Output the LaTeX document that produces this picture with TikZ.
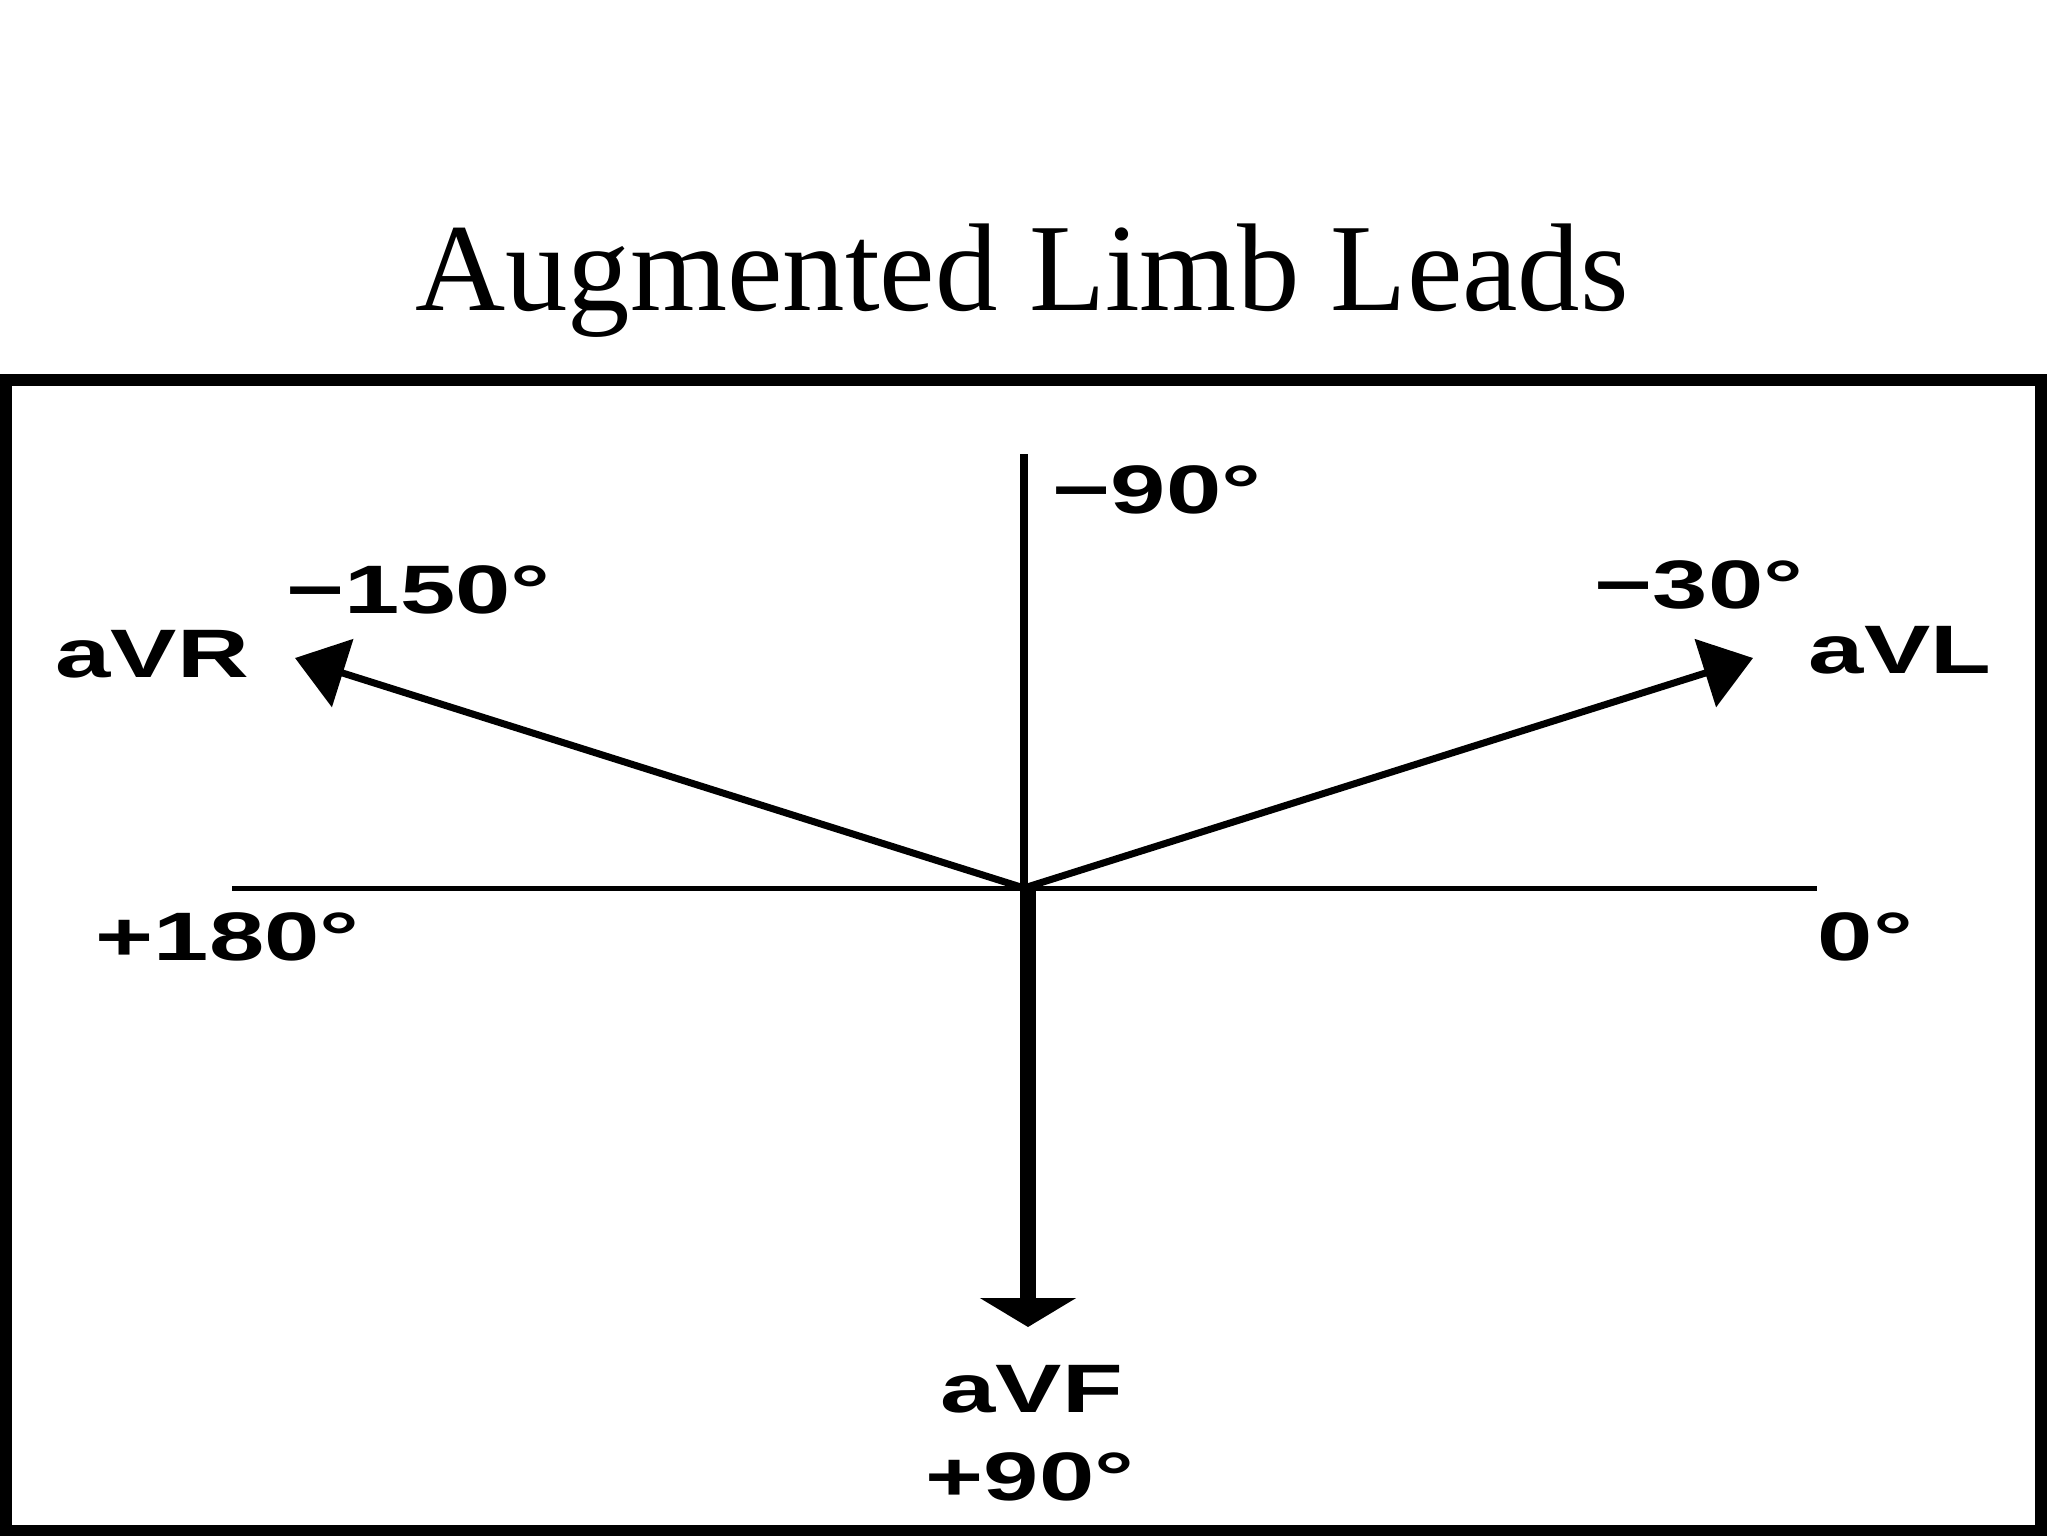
\documentclass[tikz,border=0pt]{standalone}
\usepackage{fontspec}
\usepackage{graphicx}
\usetikzlibrary{arrows.meta}
\setmainfont{Liberation Serif}
\newfontfamily\labfont{Liberation Sans Bold}
\newcommand{\leadlab}[1]{\scalebox{1.45}[1]{\labfont #1}}
\tikzset{
  lab/.style={inner sep=0pt, anchor=base west, font=\fontsize{19.5pt}{22pt}\selectfont},
  axisline/.style={line width=0.05cm, black},
  leadarrow/.style={line width=0.07cm, black, -{Triangle[length=0.5cm,width=0.7cm]}},
  framebox/.style={line width=0.12cm, black}
}
\begin{document}
\begin{tikzpicture}[x=0.01cm, y=-0.01cm]
\useasboundingbox (0,0) rectangle (2048,1536);
% title
\node[inner sep=0pt, anchor=base, font=\fontsize{35.5pt}{40pt}\selectfont] (title) at (1022,310) {Augmented Limb Leads};
% frame
\draw[framebox] (6,380) rectangle (2041,1531);
% coordinates
\coordinate (O) at (1024,888);
\coordinate (top) at (1024,454);
\coordinate (left) at (232,888);
\coordinate (right) at (1817,888);
\coordinate (R) at (295,658);
\coordinate (L) at (1753,658);
\coordinate (Ob) at (1028,885);
\coordinate (F) at (1028,1327);
% axes
\draw[line width=0.08cm] (O) -- (top);
\draw[axisline] (left) -- (right);
% leads
\draw[leadarrow] (O) -- (R);
\draw[leadarrow] (O) -- (L);
\draw[line width=0.16cm, -{Triangle[length=0.29cm,width=0.95cm]}] (Ob) -- (F);
% labels
\node[lab] (m90) at (1052,513) {\leadlab{−90°}};
\node[lab] (m150) at (286,613) {\leadlab{−150°}};
\node[lab] (avr) at (55,677) {\leadlab{aVR}};
\node[lab] (m30) at (1594,608) {\leadlab{−30°}};
\node[lab] (avl) at (1808,673) {\leadlab{aVL}};
\node[lab] (p180) at (95,960) {\leadlab{+180°}};
\node[lab] (z0) at (1817,960) {\leadlab{0°}};
\node[lab] (avf) at (940,1412) {\leadlab{aVF}};
\node[lab] (p90) at (925,1500) {\leadlab{+90°}};
\end{tikzpicture}
\end{document}
